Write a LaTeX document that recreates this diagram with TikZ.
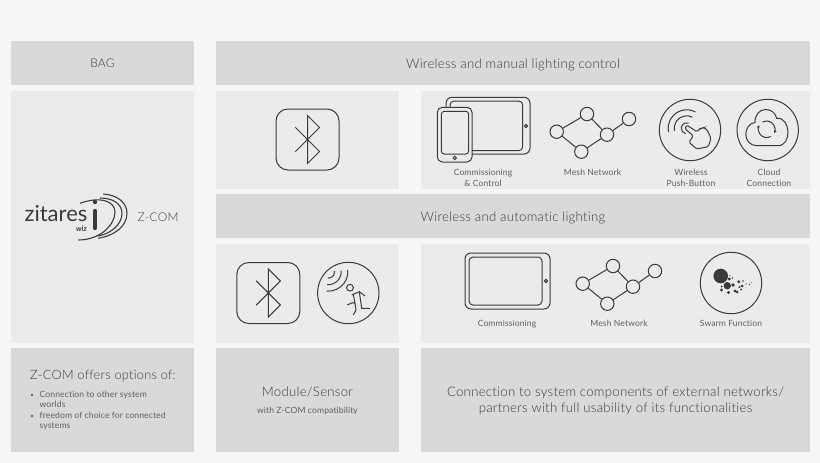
\documentclass[tikz,border=0pt]{standalone}
\usepackage{fontspec}
\setmainfont{Lato Light}[LetterSpace=2,Ligatures=NoCommon]
\newfontfamily\logofont{Lato}
\newfontfamily\labelfont{Lato}[LetterSpace=1.2,Ligatures=NoCommon]
\usetikzlibrary{arrows.meta}
\definecolor{pagebg}{HTML}{F7F7F7}
\definecolor{paneldark}{HTML}{D9D9D9}
\definecolor{panellight}{HTML}{EBEBEB}
\definecolor{labelgray}{HTML}{3C3C3C}
\definecolor{smallgray}{HTML}{606060}
\definecolor{icongray}{HTML}{3A3A3A}
\tikzset{
    darkpanel/.style={fill=paneldark,draw=none},
    lightpanel/.style={fill=panellight,draw=none},
    bigtext/.style={labelgray,font=\fontsize{13.2}{16}\selectfont,inner sep=0pt},
    smalltext/.style={smallgray,font=\labelfont\fontsize{8.6}{10.6}\selectfont,inner sep=0pt,align=center},
    listtext/.style={smallgray,font=\labelfont\fontsize{8.6}{10.6}\selectfont,inner sep=0pt,align=left,anchor=north west},
    icon/.style={icongray,line width=1pt},
    meshnode/.style={circle,draw=icongray,line width=1pt,minimum size=13.4pt,inner sep=0pt},
    mesh/.pic={
        \node[meshnode] (west) at (0,0) {};
        \node[meshnode] (north) at (30.3,-17.7) {};
        \node[meshnode] (east) at (50.3,3) {};
        \node[meshnode] (far) at (72.3,-12.7) {};
        \node[meshnode] (south) at (24.6,20) {};
        \draw[icon] (west) -- (north) -- (east) -- (far);
        \draw[icon] (west) -- (south) -- (east);
    },
    bluetooth/.pic={
        \draw[icon,rounded corners=12pt] (-31.5,-30.5) rectangle (31.5,30.5);
        \draw[icon] (-12.2,-12.2) -- (12,12) -- (0,24) -- (0,-24) -- (12,-12) -- (-12.2,12.2);
    },
}
\begin{document}
\begin{tikzpicture}[x=1pt,y=-1pt]
    \useasboundingbox (0,0) rectangle (820,463);
    \fill[pagebg] (0,0) rectangle (820,463);

    % panels
    \fill[darkpanel] (11,41) rectangle (194,85);
    \fill[darkpanel] (216,41) rectangle (810,85);
    \fill[lightpanel] (11,91) rectangle (194,343);
    \fill[lightpanel] (216,91) rectangle (399,189);
    \fill[lightpanel] (421,91) rectangle (810,189);
    \fill[darkpanel] (216,194) rectangle (810,238);
    \fill[lightpanel] (216,244) rectangle (399,343);
    \fill[lightpanel] (421,244) rectangle (810,343);
    \fill[darkpanel] (11,348) rectangle (194,452);
    \fill[darkpanel] (216,348) rectangle (399,452);
    \fill[darkpanel] (421,348) rectangle (810,452);

    % headings
    \node[bigtext,font=\fontsize{12}{14}\selectfont] (bag) at (102.5,63.5) {BAG};
    \node[bigtext] (manual) at (513,64.5) {Wireless and manual lighting control};
    \node[bigtext] (automatic) at (513,217.5) {Wireless and automatic lighting};

    % logo
    \node[inner sep=0pt,icongray,font=\logofont\fontsize{22}{23}\selectfont] (zitares) at (56,213.5) {zitares};
    \node[inner sep=0pt,icongray,font=\logofont\fontsize{7.5}{8}\selectfont\bfseries\itshape] (wiz) at (81.5,228.5) {wiz};
    \node[bigtext,font=\fontsize{12}{14}\selectfont] (zcom) at (158,217) {Z-COM};
    \fill[icongray] (95,202) circle (2.2);
    \draw[icongray,line width=4.4pt,line cap=round] (95,211) -- (95,228);
    \draw[icongray,line width=1.1pt] (80,203.3) .. controls (100,196) and (115,201) .. (115,212) .. controls (115,225) and (100,240) .. (78.3,240);
    \draw[icongray,line width=1.1pt] (100,198) .. controls (113,198) and (122,204) .. (122,213.3) .. controls (122,225) and (110,234) .. (98,236);
    \draw[icongray,line width=1.1pt] (103.3,194) .. controls (118,195) and (127,203) .. (127,213.3) .. controls (127,227) and (113,236) .. (98.3,238.3);

    % first row
    \pic at (307.5,139.5) {bluetooth};
    \draw[icon,rounded corners=6pt] (446,97.3) rectangle (530,154);
    \draw[icon,rounded corners=4pt] (450,101) rectangle (522.7,150.7);
    \draw[icon] (526,126) circle (1.6);
    \filldraw[icon,fill=panellight,rounded corners=5pt] (437.3,107.3) rectangle (472,162);
    \draw[icon,rounded corners=3pt] (441.3,111.3) rectangle (468.7,154);
    \draw[icon] (454.7,158) circle (1.7);
    \pic (topmesh) at (556.7,131.7) {mesh};

    \draw[icon] (690,130) circle (30.7);
    \draw[icon] ([shift={(168:18.5)}]686.7,128.3) arc[start angle=168,end angle=298,radius=18.5];
    \draw[icon] ([shift={(168:12.5)}]686.7,128.3) arc[start angle=168,end angle=298,radius=12.5];
    \draw[icon] ([shift={(100:5.5)}]686.7,128.3) arc[start angle=100,end angle=290,radius=5.5];
    \draw[icon,rounded corners=1.5pt] (685,129) -- (686.7,125) -- (696.7,131.7) -- (701,128.3) -- (703.3,127.7) -- (706.7,129) -- (711,138.3) -- (708.3,146.7) -- (696.7,149) -- (689,142.3) -- (693.3,135.7) -- cycle;

    \draw[icon] (767.7,130) circle (30.7);
    \draw[icon] (757,145.7) .. controls (743,145.7) and (742,125) .. (755,122.3) .. controls (755,106) and (774,106) .. (776.7,118.3) .. controls (791,117) and (792,145.7) .. (778,145.7) -- cycle;
    \draw[icon,-{Latex[length=3pt,width=3pt]}] ([shift={(-120:8.3)}]766.7,129.3) arc[start angle=-120,end angle=30,radius=8.3];
    \draw[icon,-{Latex[length=3pt,width=3pt]}] ([shift={(60:8.3)}]766.7,129.3) arc[start angle=60,end angle=210,radius=8.3];

    \node[smalltext] (commcontrol) at (483,177.8) {Commissioning\\\& Control};
    \node[smalltext] (topmeshlabel) at (592.5,172.5) {Mesh Network};
    \node[smalltext] (pushbutton) at (691,177.8) {Wireless\\Push-Button};
    \node[smalltext] (cloud) at (769,177.8) {Cloud\\Connection};

    % second row
    \pic at (268.3,293) {bluetooth};
    \draw[icon] (348.3,293) circle (30.7);
    \draw[icon] ([shift={(95:6.5)}]328.3,271.7) arc[start angle=95,end angle=-5,radius=6.5];
    \draw[icon] ([shift={(95:13)}]328.3,271.7) arc[start angle=95,end angle=-5,radius=13];
    \draw[icon] ([shift={(95:19.5)}]328.3,271.7) arc[start angle=95,end angle=-5,radius=19.5];
    \draw[icon] (350,287.7) circle (3.4);
    \draw[icon] (351.7,295) -- (359.3,291.7) -- (365,296);
    \draw[icon] (359.3,291.7) -- (361.7,308.3) -- (370,308.3);
    \draw[icon] (353.3,294.5) -- (355,303.3) -- (356,310) -- (353.3,315);
    \draw[icon] (355,303.3) -- (352.3,302.7) -- (347.3,305);

    \draw[icon,rounded corners=6pt] (465,253) rectangle (550,309);
    \draw[icon,rounded corners=4pt] (469,257) rectangle (542,305);
    \draw[icon] (546,281) circle (1.6);
    \pic (lowmesh) at (582.7,283.7) {mesh};

    \draw[icon] (731,283) circle (30.7);
    \fill[icongray] (720.7,276) circle (7.3);
    \fill[icongray] (727.3,285.7) circle (3.7);
    \foreach \dx/\dy/\dr in {729.3/279/1.6,733/285/1.8,738.7/281.7/1.6,739.5/287/1.2,742/286/1.5,735/291/1.7,721.5/286.5/1,721.5/290/1.6,728.5/292.5/1.7,737/292/1.5,741/289.5/1,743/281/0.8,746/284/0.7,749.5/284.5/0.6,751/282.5/0.5,732.5/278/0.8,730/275.5/0.6}
        \fill[icongray] (\dx,\dy) circle (\dr);

    \node[smalltext] (commissioning) at (507,323.8) {Commissioning};
    \node[smalltext] (lowmeshlabel) at (619,323.8) {Mesh Network};
    \node[smalltext] (swarm) at (731,323.8) {Swarm Function};

    % bottom row
    \node[bigtext,anchor=west,font=\fontsize{12.8}{16}\selectfont] (offers) at (30,376) {Z-COM offers options of:};
    \fill[smallgray] (32,395) circle (1.3);
    \fill[smallgray] (32,416) circle (1.3);
    \node[listtext] (firstitem) at (39.5,390.5) {Connection to other system\\worlds};
    \node[listtext] (seconditem) at (39.5,411.5) {freedom of choice for connected\\systems};
    \node[bigtext] (module) at (307.5,392) {Module/Sensor};
    \node[smalltext] (compat) at (307.5,411.5) {with Z-COM compatibility};
    \node[bigtext,align=center,font=\fontsize{13.2}{16.2}\selectfont] (partners) at (615.5,401) {Connection to system components of external networks/\\partners with full usability of its functionalities};
\end{tikzpicture}
\end{document}
